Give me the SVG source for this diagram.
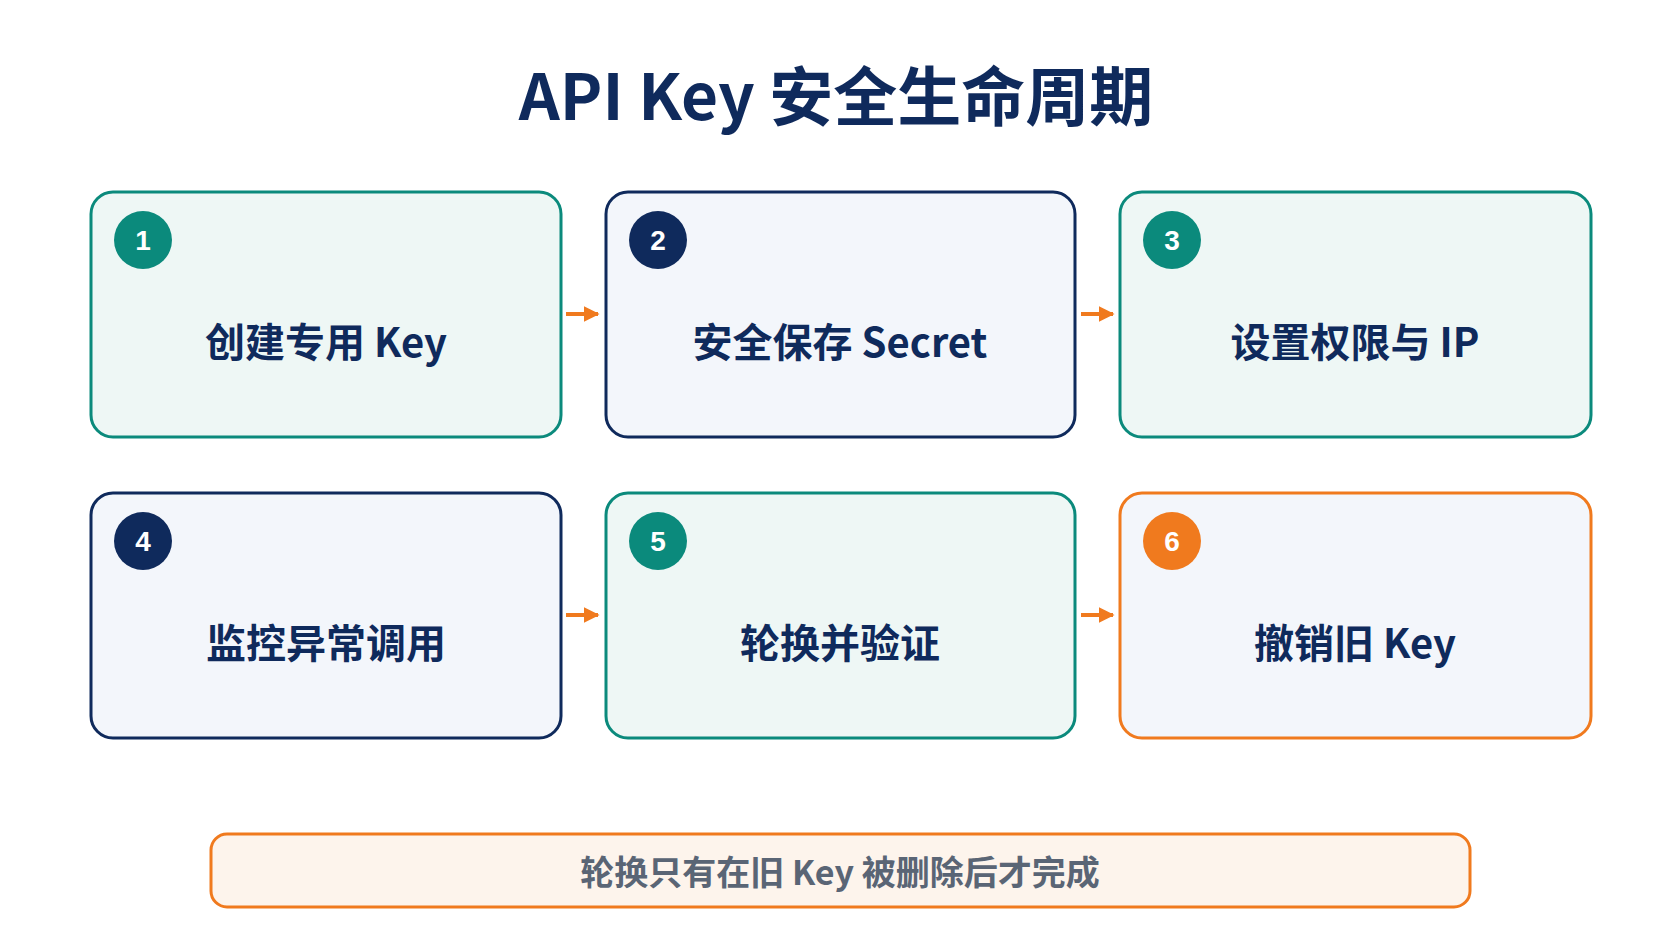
<svg xmlns="http://www.w3.org/2000/svg" width="1672" height="941" viewBox="0 0 1672 941">
<defs>
<style>
text{font-family:"Noto Sans CJK SC","Open Sans",sans-serif;font-weight:700;text-anchor:middle;dominant-baseline:central}
.box{stroke-width:3}
.t{fill:#eef7f5;stroke:#0b8a7c}.n{fill:#f3f6fb;stroke:#0f2a5c}.o{fill:#f3f6fb;stroke:#f07a1e}
.lbl{font-size:40px;fill:#0f2a5c}
.num{font-size:28px;fill:#fff;font-family:"Liberation Sans",sans-serif}
</style>
<marker id="ah" viewBox="0 0 10 10" refX="9" refY="5" markerWidth="4" markerHeight="4" orient="auto"><path d="M0,0L10,5L0,10z" fill="#f07a1e"/></marker>
</defs>
<rect width="1672" height="941" fill="#fff"/>
<text x="836" y="92" font-size="64" fill="#0f2a5c">API Key 安全生命周期</text>
<g id="n1"><rect class="box t" x="91" y="192" width="470" height="245" rx="22"/><circle cx="143" cy="240" r="29" fill="#0b8a7c"/><text class="num" x="143" y="240">1</text><text class="lbl" x="326" y="340">创建专用 Key</text></g>
<g id="n2"><rect class="box n" x="606" y="192" width="469" height="245" rx="22"/><circle cx="658" cy="240" r="29" fill="#0f2a5c"/><text class="num" x="658" y="240">2</text><text class="lbl" x="840" y="340">安全保存 Secret</text></g>
<g id="n3"><rect class="box t" x="1120" y="192" width="471" height="245" rx="22"/><circle cx="1172" cy="240" r="29" fill="#0b8a7c"/><text class="num" x="1172" y="240">3</text><text class="lbl" x="1355" y="340">设置权限与 IP</text></g>
<g id="n4"><rect class="box n" x="91" y="493" width="470" height="245" rx="22"/><circle cx="143" cy="541" r="29" fill="#0f2a5c"/><text class="num" x="143" y="541">4</text><text class="lbl" x="326" y="641">监控异常调用</text></g>
<g id="n5"><rect class="box t" x="606" y="493" width="469" height="245" rx="22"/><circle cx="658" cy="541" r="29" fill="#0b8a7c"/><text class="num" x="658" y="541">5</text><text class="lbl" x="840" y="641">轮换并验证</text></g>
<g id="n6"><rect class="box o" x="1120" y="493" width="471" height="245" rx="22"/><circle cx="1172" cy="541" r="29" fill="#f07a1e"/><text class="num" x="1172" y="541">6</text><text class="lbl" x="1355" y="641">撤销旧 Key</text></g>
<g id="connectors" stroke="#f07a1e" stroke-width="4" marker-end="url(#ah)">
<line x1="566" y1="314" x2="598" y2="314"/><line x1="1081" y1="314" x2="1113" y2="314"/>
<line x1="566" y1="615" x2="598" y2="615"/><line x1="1081" y1="615" x2="1113" y2="615"/>
</g>
<g id="note"><rect x="211" y="834" width="1259" height="73" rx="16" fill="#fdf4ec" stroke="#f07a1e" stroke-width="3"/><text x="840" y="870" font-size="34" fill="#5a6575">轮换只有在旧 Key 被删除后才完成</text></g>
</svg>
